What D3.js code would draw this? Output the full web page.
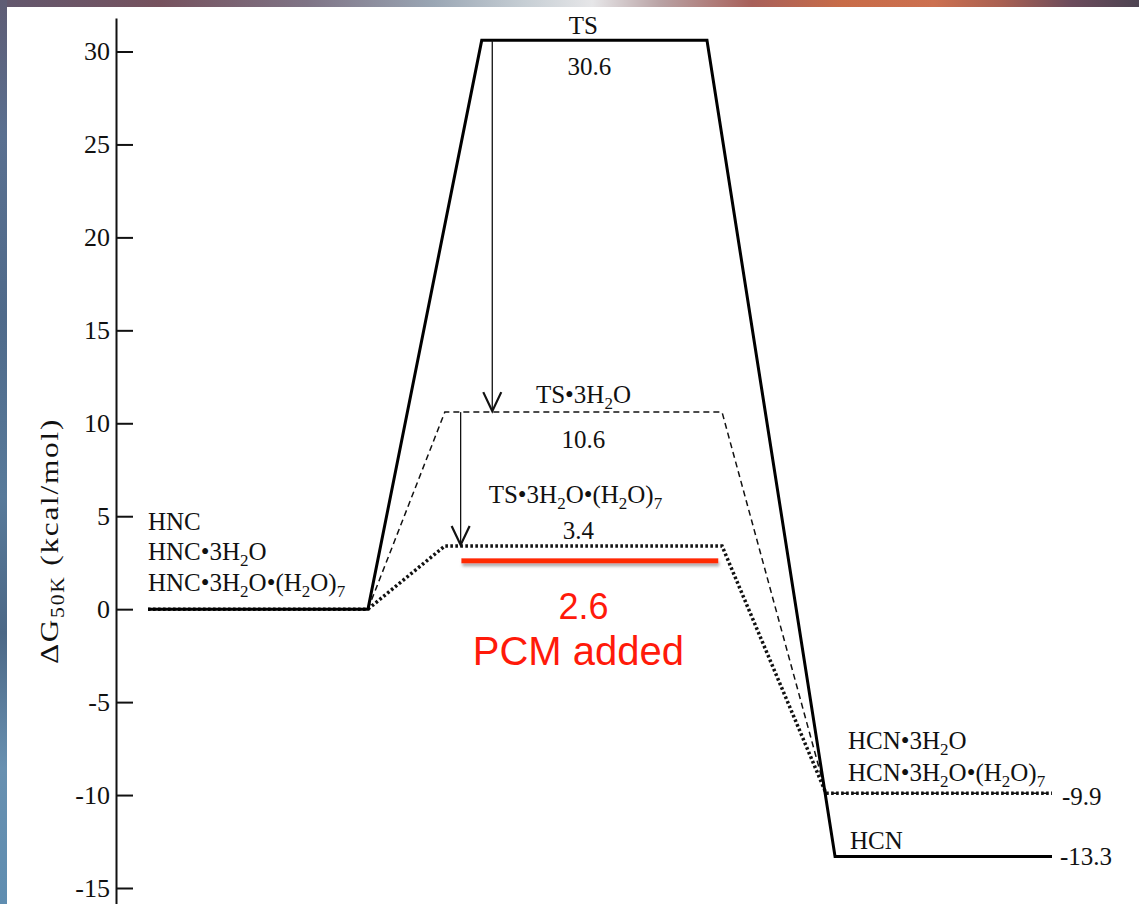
<!DOCTYPE html>
<html>
<head>
<meta charset="utf-8">
<script src="https://cdn.jsdelivr.net/npm/d3@7"></script>
<style>
  html, body { margin: 0; padding: 0; background: #fff; overflow: hidden; }
  text { font-family: "Liberation Serif", "Times New Roman", serif; fill: #111; }
</style>
</head>
<body>
<svg id="chart" width="1139" height="904"></svg>
<script>
// ---- Free-energy profile for HNC -> HCN isomerisation (kcal/mol) ----
const bareSpecies = ["HNC", "TS", "HCN"];
const bareValues = [0, 30.6, -13.3];

const triSpecies = ["HNC•3H_2O", "TS•3H_2O", "HCN•3H_2O"];
const triValues = [0, 10.6, -9.9];

const clusterSpecies = ["HNC•3H_2O•(H_2O)_7", "TS•3H_2O•(H_2O)_7", "HCN•3H_2O•(H_2O)_7"];
const clusterValues = [0, 3.4, -9.9];

const pcmValue = 2.6;
const pcmLabel = "PCM added";

const yTickValues = [30, 25, 20, 15, 10, 5, 0, -5, -10, -15];
const yAxisTitle = "ΔG_{50K} (kcal/mol)";

// ---- Layout: level extents along the reaction coordinate ----
const bareSpans = [[0, 2.92], [4.43, 7.42], [9.12, 12]];
const hydratedSpans = [[0, 2.92], [3.94, 7.62], [9.0, 12]];
const pcmSpan = [4.16, 7.57];

const W = 1139, H = 904;
const svg = d3.select("#chart");

// slide frame behind the white figure
const defs = svg.append("defs");
const topGrad = defs.append("linearGradient").attr("id", "frameTop");
[[0, "#62586e"], [0.14, "#76525e"], [0.27, "#7f7486"], [0.38, "#9aa6b4"], [0.46, "#c6ced4"],
 [0.52, "#e6e6e8"], [0.58, "#b9a2a4"], [0.66, "#a8605a"], [0.74, "#c86c48"], [0.82, "#cc7050"],
 [0.88, "#a86052"], [0.94, "#6c4c5c"], [1, "#4e4452"]]
  .forEach(([o, c]) => topGrad.append("stop").attr("offset", o).attr("stop-color", c));
const leftGrad = defs.append("linearGradient").attr("id", "frameLeft")
  .attr("x1", 0).attr("y1", 0).attr("x2", 0).attr("y2", 1);
[[0, "#5e5c74"], [0.15, "#5a7090"], [0.35, "#4f6a8a"], [0.55, "#587a9a"], [0.7, "#4c6886"],
 [0.85, "#6890b0"], [1, "#5f8db0"]]
  .forEach(([o, c]) => leftGrad.append("stop").attr("offset", o).attr("stop-color", c));

const shadow = defs.append("filter").attr("id", "pcmShadow")
  .attr("filterUnits", "userSpaceOnUse")
  .attr("x", 0).attr("y", 0).attr("width", W).attr("height", H);
shadow.append("feDropShadow").attr("dx", 1).attr("dy", 3).attr("stdDeviation", 1.5)
  .attr("flood-color", "#777").attr("flood-opacity", 0.6);

svg.append("rect").attr("width", W).attr("height", H).attr("fill", "#fff");
svg.append("rect").attr("width", W).attr("height", 7).attr("fill", "url(#frameTop)");
svg.append("rect").attr("width", 7).attr("height", H).attr("fill", "url(#frameLeft)");

// ---- Scales ----
const x = d3.scaleLinear().domain([0, 12]).range([148, 1052]);
const y = d3.scaleLinear().domain([-15, 30]).range([888, 51.5]);

// ---- Y axis (ticks point into the plot) ----
const axisTop = 18, axisBottom = H;
const axisScale = y.copy()
  .domain([y.invert(axisBottom), y.invert(axisTop)])
  .range([axisBottom, axisTop]);
const yAxis = d3.axisLeft(axisScale)
  .tickValues(yTickValues)
  .tickSize(-17)
  .tickSizeOuter(0)
  .tickPadding(6)
  .tickFormat(d => String(d));
const gAxis = svg.append("g").attr("transform", "translate(116,0)").call(yAxis);
gAxis.select(".domain").attr("stroke", "#111").attr("stroke-width", 2);
gAxis.selectAll(".tick line").attr("stroke", "#111").attr("stroke-width", 2);
gAxis.selectAll(".tick text")
  .attr("font-family", "'Liberation Serif', serif")
  .attr("font-size", 26).attr("fill", "#111");

// ---- rich text helper: "_x" or "_{xyz}" renders as subscript ----
function richText(parent, str, size) {
  const t = parent.append("text").attr("font-size", size);
  const subSize = Math.round(size * 0.68), drop = Math.round(size * 0.22);
  let i = 0, buf = "", lowered = false;
  const flush = (s, sub) => {
    if (!s) return;
    const ts = t.append("tspan").text(s);
    if (sub) {
      ts.attr("font-size", subSize);
      if (!lowered) ts.attr("dy", drop);
      lowered = true;
    } else if (lowered) {
      ts.attr("dy", -drop);
      lowered = false;
    }
  };
  while (i < str.length) {
    if (str[i] === "_") {
      flush(buf, false); buf = "";
      if (str[i + 1] === "{") {
        const end = str.indexOf("}", i);
        flush(str.slice(i + 2, end), true);
        i = end + 1;
      } else {
        flush(str[i + 1], true);
        i += 2;
      }
    } else { buf += str[i]; i++; }
  }
  flush(buf, false);
  return t;
}

// ---- Energy profiles ----
function profilePoints(values, spans) {
  const pts = [];
  values.forEach((v, k) => {
    pts.push([x(spans[k][0]), y(v)]);
    pts.push([x(spans[k][1]), y(v)]);
  });
  return pts;
}
const line = d3.line();

svg.append("path")
  .attr("d", line(profilePoints(triValues, hydratedSpans)))
  .attr("fill", "none").attr("stroke", "#111").attr("stroke-width", 1.5)
  .attr("stroke-dasharray", "6,4");

svg.append("path")
  .attr("d", line(profilePoints(clusterValues, hydratedSpans)))
  .attr("fill", "none").attr("stroke", "#111").attr("stroke-width", 3.5)
  .attr("stroke-dasharray", "2.6,2.4");

svg.append("path")
  .attr("d", line(profilePoints(bareValues, bareSpans)))
  .attr("fill", "none").attr("stroke", "#000").attr("stroke-width", 3)
  .attr("stroke-linejoin", "miter");

// implicit solvent (PCM) barrier
const pcmY = y(pcmValue), pcmW = 5;
svg.append("rect")
  .attr("x", x(pcmSpan[0])).attr("width", x(pcmSpan[1]) - x(pcmSpan[0]))
  .attr("y", pcmY - pcmW / 2).attr("height", pcmW)
  .attr("fill", "#ff2a05")
  .attr("filter", "url(#pcmShadow)");

// ---- Arrows: barrier lowering by explicit water ----
function arrow(xv, fromV, toV) {
  const xs = x(xv), y0 = y(fromV), y1 = y(toV);
  svg.append("line").attr("x1", xs).attr("x2", xs).attr("y1", y0).attr("y2", y1 - 1)
    .attr("stroke", "#111").attr("stroke-width", 1.3);
  svg.append("path")
    .attr("d", `M${xs - 9},${y1 - 20}L${xs},${y1 - 1}L${xs + 9},${y1 - 20}`)
    .attr("fill", "none").attr("stroke", "#111").attr("stroke-width", 2.2);
}
arrow(4.57, bareValues[1], triValues[1]);
arrow(4.15, triValues[1], clusterValues[1]);

// ---- Labels ----
const fs = 25;
const tsCenter = x((hydratedSpans[1][0] + hydratedSpans[1][1]) / 2);

// transition states
richText(svg, bareSpecies[1], fs).attr("x", tsCenter).attr("y", y(bareValues[1]) - 6).attr("text-anchor", "middle");
richText(svg, bareValues[1].toFixed(1), fs).attr("x", tsCenter + 6).attr("y", y(bareValues[1]) + 35).attr("text-anchor", "middle");
richText(svg, triSpecies[1], fs).attr("x", tsCenter).attr("y", y(triValues[1]) - 9).attr("text-anchor", "middle");
richText(svg, triValues[1].toFixed(1), fs).attr("x", tsCenter).attr("y", y(triValues[1]) + 36).attr("text-anchor", "middle");
richText(svg, clusterSpecies[1], fs).attr("x", tsCenter - 8).attr("y", y(clusterValues[1]) - 43).attr("text-anchor", "middle");
richText(svg, clusterValues[1].toFixed(1), fs).attr("x", tsCenter - 5).attr("y", y(clusterValues[1]) - 7).attr("text-anchor", "middle");

// PCM annotation
svg.append("text").attr("x", tsCenter).attr("y", pcmY + 58)
  .attr("text-anchor", "middle").attr("font-size", 36)
  .style("font-family", "'Liberation Sans', Arial, sans-serif").style("fill", "#ff1a0a")
  .text(pcmValue.toFixed(1));
svg.append("text").attr("x", tsCenter - 5).attr("y", pcmY + 104)
  .attr("text-anchor", "middle").attr("font-size", 40)
  .style("font-family", "'Liberation Sans', Arial, sans-serif").style("fill", "#ff1a0a")
  .text(pcmLabel);

// reactants
const rx = x(bareSpans[0][0]);
richText(svg, bareSpecies[0], fs).attr("x", rx).attr("y", y(bareValues[0]) - 79);
richText(svg, triSpecies[0], fs).attr("x", rx).attr("y", y(triValues[0]) - 49);
richText(svg, clusterSpecies[0], fs).attr("x", rx).attr("y", y(clusterValues[0]) - 18);

// products
const px = x(hydratedSpans[2][0]);
richText(svg, triSpecies[2], fs).attr("x", px + 22).attr("y", y(triValues[2]) - 44);
richText(svg, clusterSpecies[2], fs).attr("x", px + 22).attr("y", y(clusterValues[2]) - 12);
richText(svg, clusterValues[2].toFixed(1), fs).attr("x", x(12) + 10).attr("y", y(clusterValues[2]) + 12);
richText(svg, bareSpecies[2], fs).attr("x", x(bareSpans[2][0]) + 15).attr("y", y(bareValues[2]) - 7);
richText(svg, bareValues[2].toFixed(1), fs).attr("x", x(12) + 8).attr("y", y(bareValues[2]) + 9);

// axis title (slightly widened, loosely tracked serif)
richText(svg, yAxisTitle, 26)
  .attr("text-anchor", "middle")
  .attr("letter-spacing", 1.5)
  .attr("transform", "translate(58,541) rotate(-90) scale(1.2,1)");
</script>
</body>
</html>
